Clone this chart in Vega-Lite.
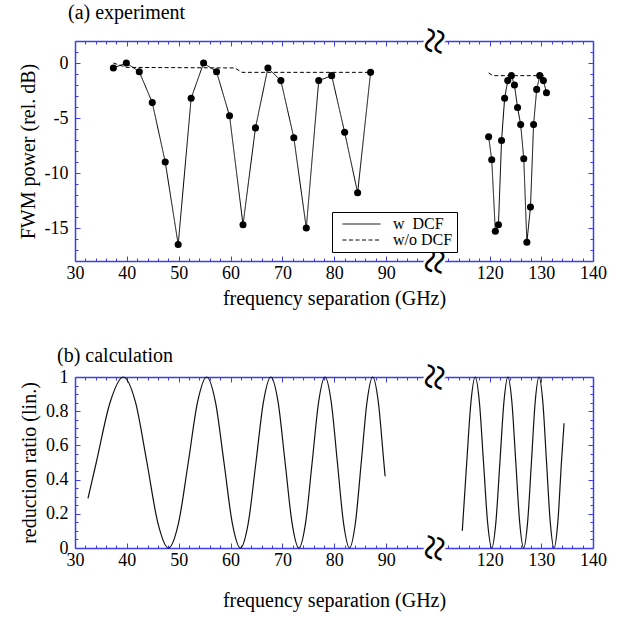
{
  "$schema": "https://vega.github.io/schema/vega-lite/v6.json",
  "padding": {"left": 18, "top": 3, "right": 5, "bottom": 3},
  "datasets": {
    "exp": [
      {"f": 37.4, "p": -0.45, "series": "w\u00a0\u00a0DCF", "seg": "L"},
      {"f": 39.9, "p": 0, "series": "w\u00a0\u00a0DCF", "seg": "L"},
      {"f": 42.4, "p": -0.8, "series": "w\u00a0\u00a0DCF", "seg": "L"},
      {"f": 44.9, "p": -3.6, "series": "w\u00a0\u00a0DCF", "seg": "L"},
      {"f": 47.4, "p": -9.0, "series": "w\u00a0\u00a0DCF", "seg": "L"},
      {"f": 49.9, "p": -16.5, "series": "w\u00a0\u00a0DCF", "seg": "L"},
      {"f": 52.4, "p": -3.2, "series": "w\u00a0\u00a0DCF", "seg": "L"},
      {"f": 54.8, "p": 0, "series": "w\u00a0\u00a0DCF", "seg": "L"},
      {"f": 57.3, "p": -0.8, "series": "w\u00a0\u00a0DCF", "seg": "L"},
      {"f": 59.8, "p": -4.8, "series": "w\u00a0\u00a0DCF", "seg": "L"},
      {"f": 62.4, "p": -14.7, "series": "w\u00a0\u00a0DCF", "seg": "L"},
      {"f": 64.8, "p": -5.9, "series": "w\u00a0\u00a0DCF", "seg": "L"},
      {"f": 67.2, "p": -0.45, "series": "w\u00a0\u00a0DCF", "seg": "L"},
      {"f": 69.7, "p": -1.6, "series": "w\u00a0\u00a0DCF", "seg": "L"},
      {"f": 72.2, "p": -6.8, "series": "w\u00a0\u00a0DCF", "seg": "L"},
      {"f": 74.6, "p": -15.0, "series": "w\u00a0\u00a0DCF", "seg": "L"},
      {"f": 77.0, "p": -1.6, "series": "w\u00a0\u00a0DCF", "seg": "L"},
      {"f": 79.5, "p": -1.15, "series": "w\u00a0\u00a0DCF", "seg": "L"},
      {"f": 82.0, "p": -6.3, "series": "w\u00a0\u00a0DCF", "seg": "L"},
      {"f": 84.5, "p": -11.8, "series": "w\u00a0\u00a0DCF", "seg": "L"},
      {"f": 87.0, "p": -0.85, "series": "w\u00a0\u00a0DCF", "seg": "L"},
      {"f": 119.8, "p": -6.7, "series": "w\u00a0\u00a0DCF", "seg": "R"},
      {"f": 120.4, "p": -8.8, "series": "w\u00a0\u00a0DCF", "seg": "R"},
      {"f": 121.1, "p": -15.3, "series": "w\u00a0\u00a0DCF", "seg": "R"},
      {"f": 121.7, "p": -14.7, "series": "w\u00a0\u00a0DCF", "seg": "R"},
      {"f": 122.3, "p": -7.05, "series": "w\u00a0\u00a0DCF", "seg": "R"},
      {"f": 122.9, "p": -3.2, "series": "w\u00a0\u00a0DCF", "seg": "R"},
      {"f": 123.5, "p": -1.6, "series": "w\u00a0\u00a0DCF", "seg": "R"},
      {"f": 124.2, "p": -1.15, "series": "w\u00a0\u00a0DCF", "seg": "R"},
      {"f": 124.8, "p": -2.0, "series": "w\u00a0\u00a0DCF", "seg": "R"},
      {"f": 125.4, "p": -4.05, "series": "w\u00a0\u00a0DCF", "seg": "R"},
      {"f": 126.0, "p": -5.6, "series": "w\u00a0\u00a0DCF", "seg": "R"},
      {"f": 126.6, "p": -8.7, "series": "w\u00a0\u00a0DCF", "seg": "R"},
      {"f": 127.2, "p": -16.3, "series": "w\u00a0\u00a0DCF", "seg": "R"},
      {"f": 127.9, "p": -13.1, "series": "w\u00a0\u00a0DCF", "seg": "R"},
      {"f": 128.5, "p": -5.6, "series": "w\u00a0\u00a0DCF", "seg": "R"},
      {"f": 129.1, "p": -2.4, "series": "w\u00a0\u00a0DCF", "seg": "R"},
      {"f": 129.7, "p": -1.15, "series": "w\u00a0\u00a0DCF", "seg": "R"},
      {"f": 130.4, "p": -1.6, "series": "w\u00a0\u00a0DCF", "seg": "R"},
      {"f": 131.0, "p": -2.7, "series": "w\u00a0\u00a0DCF", "seg": "R"},
      {"f": 37.4, "p": 0, "series": "w/o DCF", "seg": "L"},
      {"f": 39.9, "p": -0.4, "series": "w/o DCF", "seg": "L"},
      {"f": 60.8, "p": -0.45, "series": "w/o DCF", "seg": "L"},
      {"f": 62.2, "p": -0.85, "series": "w/o DCF", "seg": "L"},
      {"f": 86.4, "p": -0.85, "series": "w/o DCF", "seg": "L"},
      {"f": 119.8, "p": -0.9, "series": "w/o DCF", "seg": "R"},
      {"f": 120.6, "p": -1.15, "series": "w/o DCF", "seg": "R"},
      {"f": 130.8, "p": -1.15, "series": "w/o DCF", "seg": "R"}
    ],
    "calc": [
      {"f": 32.5, "r": 0.29, "seg": "L"},
      {"f": 34.10, "r": 0.5, "seg": "L"},
      {"f": 36.79, "r": 0.854, "seg": "L"},
      {"f": 39.29, "r": 1, "seg": "L"},
      {"f": 41.65, "r": 0.854, "seg": "L"},
      {"f": 43.87, "r": 0.5, "seg": "L"},
      {"f": 45.99, "r": 0.146, "seg": "L"},
      {"f": 48.02, "r": 0, "seg": "L"},
      {"f": 49.96, "r": 0.146, "seg": "L"},
      {"f": 51.84, "r": 0.5, "seg": "L"},
      {"f": 53.64, "r": 0.854, "seg": "L"},
      {"f": 55.39, "r": 1, "seg": "L"},
      {"f": 57.08, "r": 0.854, "seg": "L"},
      {"f": 58.73, "r": 0.5, "seg": "L"},
      {"f": 60.33, "r": 0.146, "seg": "L"},
      {"f": 61.89, "r": 0, "seg": "L"},
      {"f": 63.41, "r": 0.146, "seg": "L"},
      {"f": 64.89, "r": 0.5, "seg": "L"},
      {"f": 66.34, "r": 0.854, "seg": "L"},
      {"f": 67.76, "r": 1, "seg": "L"},
      {"f": 69.16, "r": 0.854, "seg": "L"},
      {"f": 70.52, "r": 0.5, "seg": "L"},
      {"f": 71.86, "r": 0.146, "seg": "L"},
      {"f": 73.17, "r": 0, "seg": "L"},
      {"f": 74.46, "r": 0.146, "seg": "L"},
      {"f": 75.73, "r": 0.5, "seg": "L"},
      {"f": 76.98, "r": 0.854, "seg": "L"},
      {"f": 78.21, "r": 1, "seg": "L"},
      {"f": 79.41, "r": 0.854, "seg": "L"},
      {"f": 80.60, "r": 0.5, "seg": "L"},
      {"f": 81.78, "r": 0.146, "seg": "L"},
      {"f": 82.93, "r": 0, "seg": "L"},
      {"f": 84.07, "r": 0.146, "seg": "L"},
      {"f": 85.20, "r": 0.5, "seg": "L"},
      {"f": 86.31, "r": 0.854, "seg": "L"},
      {"f": 87.41, "r": 1, "seg": "L"},
      {"f": 88.49, "r": 0.854, "seg": "L"},
      {"f": 89.56, "r": 0.5, "seg": "L"},
      {"f": 89.8, "r": 0.42, "seg": "L"},
      {"f": 114.7, "r": 0.1, "seg": "R"},
      {"f": 115.56, "r": 0.5, "seg": "R"},
      {"f": 116.38, "r": 0.854, "seg": "R"},
      {"f": 117.20, "r": 1, "seg": "R"},
      {"f": 118.01, "r": 0.854, "seg": "R"},
      {"f": 118.81, "r": 0.5, "seg": "R"},
      {"f": 119.61, "r": 0.146, "seg": "R"},
      {"f": 120.41, "r": 0, "seg": "R"},
      {"f": 121.19, "r": 0.146, "seg": "R"},
      {"f": 121.98, "r": 0.5, "seg": "R"},
      {"f": 122.76, "r": 0.854, "seg": "R"},
      {"f": 123.53, "r": 1, "seg": "R"},
      {"f": 124.30, "r": 0.854, "seg": "R"},
      {"f": 125.06, "r": 0.5, "seg": "R"},
      {"f": 125.82, "r": 0.146, "seg": "R"},
      {"f": 126.58, "r": 0, "seg": "R"},
      {"f": 127.33, "r": 0.146, "seg": "R"},
      {"f": 128.08, "r": 0.5, "seg": "R"},
      {"f": 128.81, "r": 0.854, "seg": "R"},
      {"f": 129.55, "r": 1, "seg": "R"},
      {"f": 130.29, "r": 0.854, "seg": "R"},
      {"f": 131.01, "r": 0.5, "seg": "R"},
      {"f": 131.74, "r": 0.146, "seg": "R"},
      {"f": 132.46, "r": 0, "seg": "R"},
      {"f": 133.18, "r": 0.146, "seg": "R"},
      {"f": 133.89, "r": 0.5, "seg": "R"},
      {"f": 134.4, "r": 0.73, "seg": "R"}
    ]
  },
  "spacing": 38,
  "vconcat": [
    {
      "width": 518,
      "height": 220,
      "title": {"text": "(a) experiment", "dx": -7, "offset": 0.5},
      "data": {"name": "exp"},
      "layer": [
        {
          "mark": {"type": "line", "color": "black", "strokeWidth": 1},
          "encoding": {
            "x": {
              "field": "f", "type": "quantitative",
              "scale": {"domain": [30, 100, 110, 140], "range": [0, 363, 363, 518], "nice": false, "zero": false},
              "axis": {
                "orient": "bottom",
                "values": [30,32,34,36,38,40,42,44,46,48,50,52,54,56,58,60,62,64,66,68,70,72,74,76,78,80,82,84,86,88,90,92,94,96,98,112,114,116,118,120,122,124,126,128,130,132,134,136,138,140],
                "labelExpr": "datum.value % 10 === 0 ? '' + datum.value : ''",
                "tickSize": {"condition": {"test": "datum.value % 10 === 0", "value": -5}, "value": -3},
                "labelPadding": 8,
                "title": "frequency separation (GHz)",
                "titlePadding": 4
              }
            },
            "y": {
              "field": "p", "type": "quantitative",
              "scale": {"domain": [-18, 2], "nice": false, "zero": false},
              "axis": {
                "orient": "left",
                "values": [-18,-17,-16,-15,-14,-13,-12,-11,-10,-9,-8,-7,-6,-5,-4,-3,-2,-1,0,1,2],
                "labelExpr": "datum.value % 5 === 0 ? '' + datum.value : ''",
                "tickSize": {"condition": {"test": "datum.value % 5 === 0", "value": -5}, "value": -3},
                "labelPadding": 12,
                "title": "FWM power (rel. dB)",
                "titlePadding": 6
              }
            },
            "strokeDash": {
              "field": "series", "type": "nominal",
              "scale": {"domain": ["w\u00a0\u00a0DCF", "w/o DCF"], "range": [[1, 0], [4, 2.5]]},
              "legend": {"orient": "none", "legendX": 257, "legendY": 171, "title": null}
            },
            "detail": {"field": "seg"}
          }
        },
        {
          "transform": [{"filter": "datum.series !== 'w/o DCF'"}],
          "mark": {"type": "circle", "color": "black", "size": 50, "opacity": 1},
          "encoding": {
            "x": {
              "field": "f", "type": "quantitative",
              "axis": {
                "orient": "top", "labels": false, "title": null,
                "values": [30,32,34,36,38,40,42,44,46,48,50,52,54,56,58,60,62,64,66,68,70,72,74,76,78,80,82,84,86,88,90,92,94,96,98,112,114,116,118,120,122,124,126,128,130,132,134,136,138,140],
                "tickSize": {"condition": {"test": "datum.value % 10 === 0", "value": -5}, "value": -3}
              }
            },
            "y": {
              "field": "p", "type": "quantitative",
              "axis": {
                "orient": "right", "labels": false, "title": null,
                "values": [-18,-17,-16,-15,-14,-13,-12,-11,-10,-9,-8,-7,-6,-5,-4,-3,-2,-1,0,1,2],
                "tickSize": {"condition": {"test": "datum.value % 5 === 0", "value": -5}, "value": -3}
              }
            }
          }
        },
        {
          "data": {"values": [{}]},
          "mark": {"type": "text", "text": "≈", "angle": 100, "fontSize": 48, "font": "Liberation Serif", "color": "white", "stroke": "white", "strokeWidth": 5, "align": "center", "baseline": "middle"},
          "encoding": {"x": {"datum": 99, "type": "quantitative", "axis": null}, "y": {"datum": 2, "type": "quantitative", "axis": null}}
        },
        {
          "data": {"values": [{}]},
          "mark": {"type": "text", "text": "≈", "angle": 100, "fontSize": 48, "font": "Liberation Serif", "color": "white", "stroke": "white", "strokeWidth": 5, "align": "center", "baseline": "middle"},
          "encoding": {"x": {"datum": 99, "type": "quantitative", "axis": null}, "y": {"datum": -18, "type": "quantitative", "axis": null}}
        },
        {
          "data": {"values": [{}]},
          "mark": {"type": "text", "text": "≈", "angle": 100, "fontSize": 48, "font": "Liberation Serif", "color": "black", "align": "center", "baseline": "middle"},
          "encoding": {"x": {"datum": 99, "type": "quantitative", "axis": null}, "y": {"datum": 2, "type": "quantitative", "axis": null}}
        },
        {
          "data": {"values": [{}]},
          "mark": {"type": "text", "text": "≈", "angle": 100, "fontSize": 48, "font": "Liberation Serif", "color": "black", "align": "center", "baseline": "middle"},
          "encoding": {"x": {"datum": 99, "type": "quantitative", "axis": null}, "y": {"datum": -18, "type": "quantitative", "axis": null}}
        }
      ],
      "resolve": {"axis": {"x": "independent", "y": "independent"}}
    },
    {
      "width": 518,
      "height": 171,
      "title": {"text": "(b) calculation", "dx": -18, "offset": -6.5},
      "data": {"name": "calc"},
      "layer": [
        {
          "mark": {"type": "line", "interpolate": "monotone", "color": "#111111", "strokeWidth": 1.2},
          "encoding": {
            "x": {
              "field": "f", "type": "quantitative",
              "scale": {"domain": [30, 100, 110, 140], "range": [0, 363, 363, 518], "nice": false, "zero": false},
              "axis": {
                "orient": "bottom",
                "values": [30,32,34,36,38,40,42,44,46,48,50,52,54,56,58,60,62,64,66,68,70,72,74,76,78,80,82,84,86,88,90,92,94,96,98,112,114,116,118,120,122,124,126,128,130,132,134,136,138,140],
                "labelExpr": "datum.value % 10 === 0 ? '' + datum.value : ''",
                "tickSize": {"condition": {"test": "datum.value % 10 === 0", "value": -5}, "value": -3},
                "labelPadding": 8,
                "title": "frequency separation (GHz)",
                "titlePadding": 19
              }
            },
            "y": {
              "field": "r", "type": "quantitative",
              "scale": {"domain": [0, 1], "nice": false, "zero": false},
              "axis": {
                "orient": "left",
                "values": [0,0.05,0.1,0.15,0.2,0.25,0.3,0.35,0.4,0.45,0.5,0.55,0.6,0.65,0.7,0.75,0.8,0.85,0.9,0.95,1],
                "labelExpr": "abs(datum.value * 5 - round(datum.value * 5)) < 0.001 ? '' + datum.value : ''",
                "tickSize": {"condition": {"test": "abs(datum.value * 5 - round(datum.value * 5)) < 0.001", "value": -5}, "value": -3},
                "labelPadding": 12,
                "title": "reduction ratio (lin.)",
                "titlePadding": 6
              }
            },
            "detail": {"field": "seg"}
          }
        },
        {
          "data": {"values": [{}]},
          "mark": {"type": "text", "text": "≈", "angle": 100, "fontSize": 48, "font": "Liberation Serif", "color": "white", "stroke": "white", "strokeWidth": 5, "align": "center", "baseline": "middle"},
          "encoding": {
            "x": {"datum": 99, "type": "quantitative",
              "axis": {
                "orient": "top", "labels": false, "title": null,
                "values": [30,32,34,36,38,40,42,44,46,48,50,52,54,56,58,60,62,64,66,68,70,72,74,76,78,80,82,84,86,88,90,92,94,96,98,112,114,116,118,120,122,124,126,128,130,132,134,136,138,140],
                "tickSize": {"condition": {"test": "datum.value % 10 === 0", "value": -5}, "value": -3}
              }
            },
            "y": {"datum": 1, "type": "quantitative",
              "axis": {
                "orient": "right", "labels": false, "title": null,
                "values": [0,0.05,0.1,0.15,0.2,0.25,0.3,0.35,0.4,0.45,0.5,0.55,0.6,0.65,0.7,0.75,0.8,0.85,0.9,0.95,1],
                "tickSize": {"condition": {"test": "abs(datum.value * 5 - round(datum.value * 5)) < 0.001", "value": -5}, "value": -3}
              }
            }
          }
        },
        {
          "data": {"values": [{}]},
          "mark": {"type": "text", "text": "≈", "angle": 100, "fontSize": 48, "font": "Liberation Serif", "color": "white", "stroke": "white", "strokeWidth": 5, "align": "center", "baseline": "middle"},
          "encoding": {"x": {"datum": 99, "type": "quantitative", "axis": null}, "y": {"datum": 0, "type": "quantitative", "axis": null}}
        },
        {
          "data": {"values": [{}]},
          "mark": {"type": "text", "text": "≈", "angle": 100, "fontSize": 48, "font": "Liberation Serif", "color": "black", "align": "center", "baseline": "middle"},
          "encoding": {"x": {"datum": 99, "type": "quantitative", "axis": null}, "y": {"datum": 1, "type": "quantitative", "axis": null}}
        },
        {
          "data": {"values": [{}]},
          "mark": {"type": "text", "text": "≈", "angle": 100, "fontSize": 48, "font": "Liberation Serif", "color": "black", "align": "center", "baseline": "middle"},
          "encoding": {"x": {"datum": 99, "type": "quantitative", "axis": null}, "y": {"datum": 0, "type": "quantitative", "axis": null}}
        }
      ],
      "resolve": {"axis": {"x": "independent", "y": "independent"}}
    }
  ],
  "config": {
    "font": "Liberation Serif",
    "view": {"stroke": null},
    "axis": {
      "domainColor": "#3c3cf0", "domainWidth": 1.5,
      "tickColor": "#3c3cf0", "tickWidth": 1,
      "labelFont": "Liberation Serif", "labelFontSize": 18, "labelColor": "black",
      "titleFont": "Liberation Serif", "titleFontSize": 20, "titleFontWeight": "normal", "titleColor": "black",
      "grid": false, "labelOverlap": false, "labelFlush": false
    },
    "title": {"font": "Liberation Serif", "fontSize": 20, "fontWeight": "normal", "anchor": "start", "frame": "group", "color": "black"},
    "legend": {
      "strokeColor": "black", "fillColor": "white", "padding": 4,
      "symbolType": "stroke", "symbolSize": 1444, "symbolStrokeWidth": 1, "symbolStrokeColor": "black",
      "clipHeight": 16, "labelFont": "Liberation Serif", "labelFontSize": 16, "labelColor": "black",
      "labelOffset": 12, "symbolOffset": 6, "rowPadding": 0
    }
  }
}
